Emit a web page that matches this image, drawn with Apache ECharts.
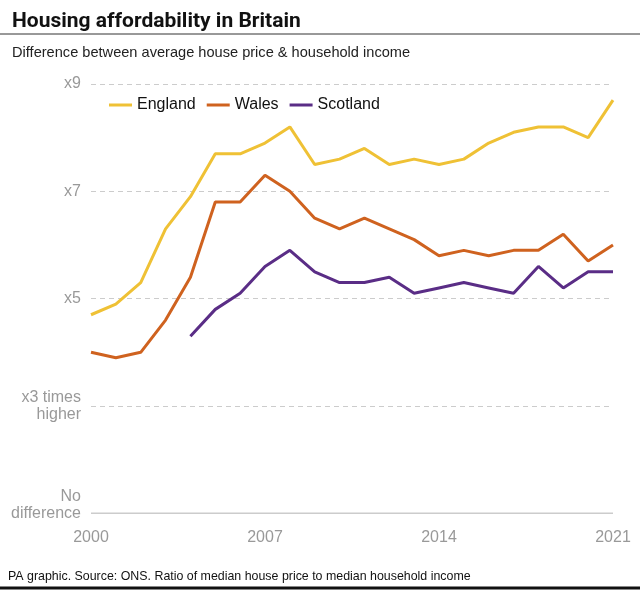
<!DOCTYPE html>
<html><head><meta charset="utf-8">
<script src="https://cdn.jsdelivr.net/npm/echarts@6/dist/echarts.min.js"></script>
<style>html,body{margin:0;padding:0;background:#fff;}#c{width:640px;height:593px;}</style>
</head><body><div id="c"></div>
<script>
const years = ['2000','2001','2002','2003','2004','2005','2006','2007','2008','2009','2010','2011','2012','2013','2014','2015','2016','2017','2018','2019','2020','2021'];
const england = [4.7,4.9,5.3,6.3,6.9,7.7,7.7,7.9,8.2,7.5,7.6,7.8,7.5,7.6,7.5,7.6,7.9,8.1,8.2,8.2,8.0,8.7];
const wales = [4.0,3.9,4.0,4.6,5.4,6.8,6.8,7.3,7.0,6.5,6.3,6.5,6.3,6.1,5.8,5.9,5.8,5.9,5.9,6.2,5.7,6.0];
const scotland = [null,null,null,null,4.3,4.8,5.1,5.6,5.9,5.5,5.3,5.3,5.4,5.1,5.2,5.3,5.2,5.1,5.6,5.2,5.5,5.5];
const yLabels = {9:'x9',7:'x7',5:'x5',3:'x3 times\nhigher',1:'No\ndifference\n '};

const FONT = '"Liberation Sans", Arial, sans-serif';
const chart = echarts.init(document.getElementById('c'), null, {renderer:'canvas'});
const mk = (name, data, color) => ({
  name, type:'line', data, symbol:'none', connectNulls:false,
  lineStyle:{width:3, color}, itemStyle:{color}, z:3
});
chart.setOption({
  animation:false,
  textStyle:{fontFamily:FONT},
  title:[
    {text:'Housing affordability in Britain', left:7, top:6,
     textStyle:{fontFamily:'Roboto, ' + FONT, fontSize:21, fontWeight:'bold', color:'#111'}},
    {text:'Difference between average house price & household income', left:7, top:40,
     textStyle:{fontFamily:FONT, fontSize:14.6, fontWeight:'normal', color:'#222'}}
  ],
  graphic:[
    {type:'line', shape:{x1:0,y1:34,x2:640,y2:34}, style:{stroke:'#333', lineWidth:1}},
    {type:'line', shape:{x1:0,y1:588,x2:640,y2:588}, style:{stroke:'#111', lineWidth:3}},
    {type:'text', left:8, top:571, style:{text:'PA graphic. Source: ONS. Ratio of median house price to median household income', fontFamily:FONT, fontSize:12.4, fill:'#111'}}
  ],
  legend:{
    left:104, top:92, itemWidth:23, itemHeight:3, itemGap:11,
    icon:'rect',
    textStyle:{fontFamily:FONT, fontSize:16, color:'#111'},
    data:['England','Wales','Scotland']
  },
  grid:{left:91, right:27, top:84, bottom:79.7},
  xAxis:{
    type:'category', data:years, boundaryGap:false,
    axisLine:{show:false}, axisTick:{show:false},
    axisLabel:{interval:6, color:'#999', fontSize:16, fontFamily:FONT, margin:16}
  },
  yAxis:{
    type:'value', min:1, max:9, interval:2,
    axisLine:{show:false}, axisTick:{show:false},
    axisLabel:{color:'#999', fontSize:16, fontFamily:FONT, margin:10, lineHeight:17,
      formatter:v => yLabels[v] || ''},
    splitLine:{lineStyle:{color:'#ccc', type:[5,4], width:1}}
  },
  series:[
    mk('England', england, '#EFC135'),
    mk('Wales', wales, '#CF621F'),
    mk('Scotland', scotland, '#5A2D86'),
    {type:'line', data:years.map(()=>1), symbol:'none', silent:true,
     lineStyle:{color:'#ccc', width:1.5}, z:2, tooltip:{show:false}}
  ]
});
</script></body></html>
